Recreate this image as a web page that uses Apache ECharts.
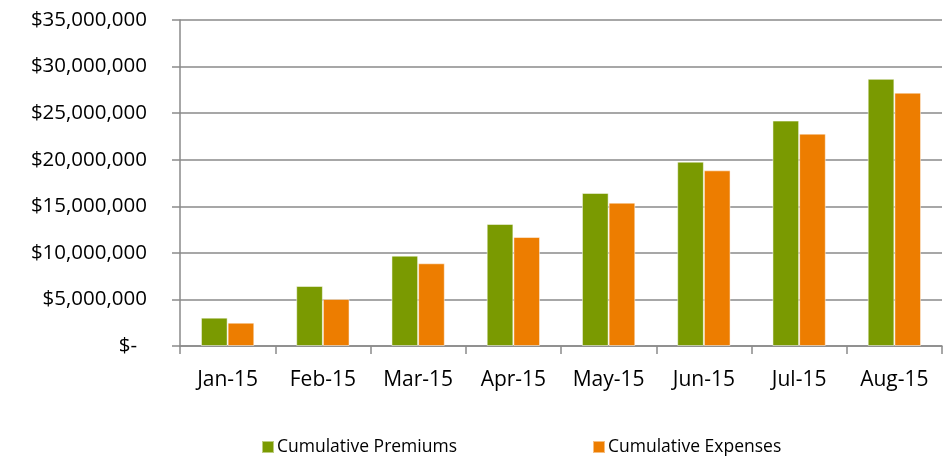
<!DOCTYPE html>
<html>
<head>
<meta charset="utf-8">
<script src="https://cdn.jsdelivr.net/npm/echarts@6/dist/echarts.min.js"></script>
<style>html,body{margin:0;padding:0;background:#fff}#c{width:947px;height:456px}</style>
</head>
<body>
<div id="c"></div>
<script>
var categories = ['Jan-15','Feb-15','Mar-15','Apr-15','May-15','Jun-15','Jul-15','Aug-15'];
var premiums = [3040000, 6440000, 9700000, 13100000, 16430000, 19790000, 24200000, 28680000];
var expenses = [2500000, 5050000, 8880000, 11700000, 15390000, 18860000, 22800000, 27200000];
var seriesNames = ['Cumulative Premiums', 'Cumulative Expenses'];

var FONT = '"Open Sans", "Noto Sans", sans-serif';
var chart = echarts.init(document.getElementById('c'));
chart.setOption({
  animation: false,
  grid: {left: 180, right: 5, top: 20, bottom: 110, containLabel: false},
  legend: [
    {data: [seriesNames[0]], left: 256, top: 433, itemWidth: 12, itemHeight: 12, itemGap: 6, icon: 'rect',
     textStyle: {fontFamily: FONT, fontSize: 17.5, color: '#000', padding: [0, 0, 0, -2]}},
    {data: [seriesNames[1]], left: 587, top: 433, itemWidth: 12, itemHeight: 12, itemGap: 6, icon: 'rect',
     textStyle: {fontFamily: FONT, fontSize: 17.5, color: '#000', padding: [0, 0, 0, -2]}}
  ],
  xAxis: {
    type: 'category', data: categories,
    axisLine: {lineStyle: {color: '#8a8a8a', width: 1.5}},
    axisTick: {show: true, length: 8, lineStyle: {color: '#8a8a8a', width: 1.5}},
    axisLabel: {fontFamily: FONT, fontSize: 21, color: '#000', margin: 24}
  },
  yAxis: {
    type: 'value', min: 0, max: 35000000, interval: 5000000,
    axisLine: {show: true, lineStyle: {color: '#8a8a8a', width: 1.5}},
    axisTick: {show: true, length: 8, lineStyle: {color: '#8a8a8a', width: 1.5}},
    splitLine: {lineStyle: {color: '#8a8a8a', width: 1.5}},
    axisLabel: {fontFamily: FONT, fontSize: 20.5, color: '#000', margin: 33,
      formatter: function (v) { return v === 0 ? '{z|$-}' : '$' + v.toLocaleString('en-US'); },
      rich: {z: {fontFamily: FONT, fontSize: 20.5, color: '#000', padding: [0, 10, 0, 0]}}
    }
  },
  series: [
    {name: seriesNames[0], type: 'bar', data: premiums, barWidth: '28%', barGap: '0%',
     itemStyle: {color: '#7a9a01', borderColor: 'rgba(255,255,255,0.5)', borderWidth: 1}},
    {name: seriesNames[1], type: 'bar', data: expenses, barWidth: '28%', barGap: '0%',
     itemStyle: {color: '#ed7d00', borderColor: 'rgba(255,255,255,0.5)', borderWidth: 1}}
  ]
});
</script>
</body>
</html>
